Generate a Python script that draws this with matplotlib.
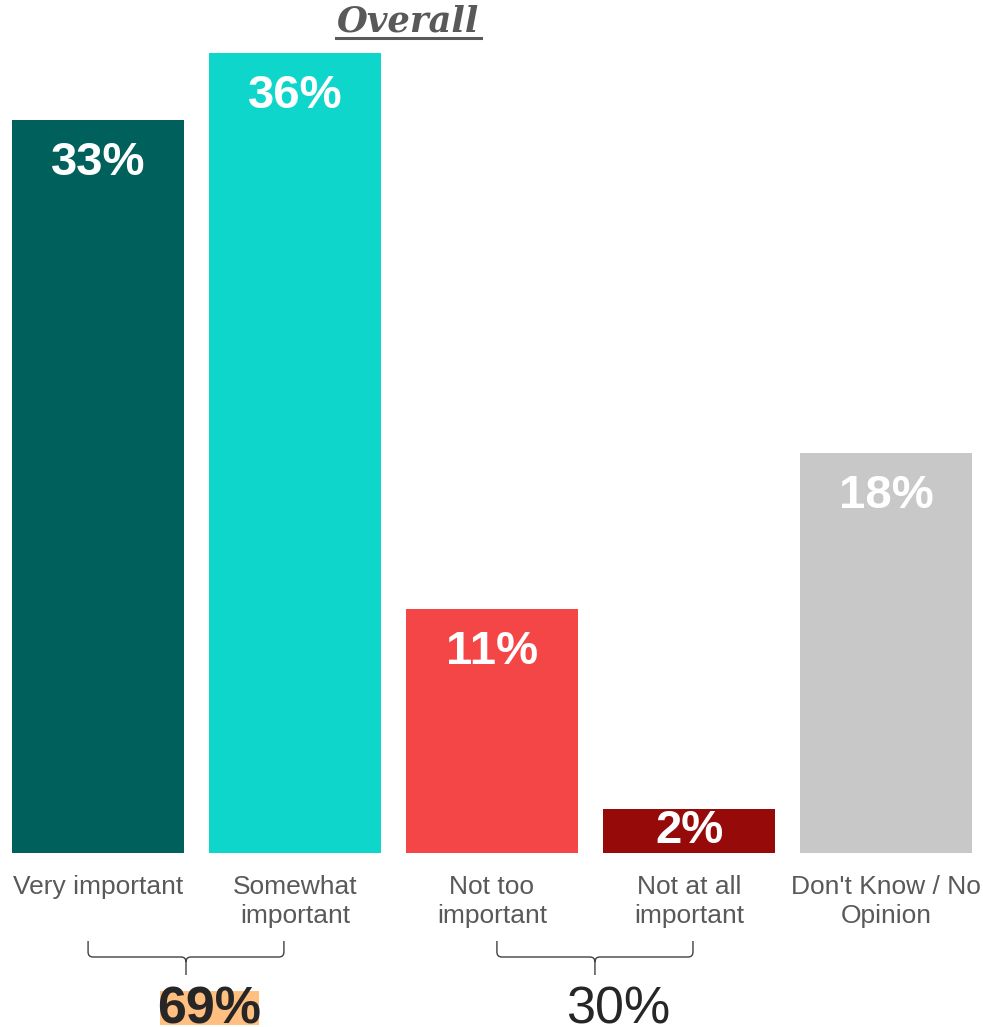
import matplotlib
matplotlib.use("Agg")
import matplotlib.pyplot as plt
from matplotlib.path import Path
from matplotlib.patches import PathPatch, Rectangle
from matplotlib.transforms import IdentityTransform

# Survey results: importance ratings (percent of respondents)
categories = ["Very important", "Somewhat\nimportant", "Not too\nimportant",
              "Not at all\nimportant", "Don't Know / No\nOpinion"]
values = [33, 36, 11, 2, 18]
colors = ["#00605C", "#0ED6CB", "#F44646", "#960A0A", "#C8C8C8"]

# Grouped totals shown under the brackets
group_members = [(0, 1), (2, 3)]
group_totals = ["69%", "30%"]

W, H = 983, 1027
DPI = 100
fig = plt.figure(figsize=(W / DPI, H / DPI), dpi=DPI)
plt.rcParams["font.family"] = ["Liberation Sans", "DejaVu Sans"]

# Axes spans the full width; the baseline sits 853 px from the top
ax = fig.add_axes([0, 1 - 853 / H, 1, 853 / H])
ax.set_xlim(-0.497, 4.492)
ax.set_ylim(0, 38.39)
for s in ax.spines.values():
    s.set_visible(False)
ax.set_yticks([])

x = list(range(len(values)))
ax.bar(x, values, width=0.873, color=colors)

ax.set_xticks(x)
ax.set_xticklabels(categories, fontsize=19, color="#595959", linespacing=1.3)
ax.tick_params(axis="x", length=0, pad=15.5)

# Value labels inside the bars: near the top, or centred for short bars
label_drop = 1.95  # in percentage points
for xi, v in zip(x, values):
    ax.text(xi, max(v - label_drop, v / 2), f"{v}%", ha="center", va="center",
            fontsize=34, fontweight="bold", color="white")


def px(xp, yp):
    """Convert top-left pixel coordinates to display coordinates."""
    return (xp, H - yp)


# Title with underline
fig.text(408 / W, 1 - 22 / H, "Overall", ha="center", va="center",
         fontsize=25.5, fontweight="bold", style="italic",
         family="DejaVu Serif", color="#595959")
fig.add_artist(plt.Line2D([336 / W, 481 / W], [1 - 38 / H, 1 - 38 / H],
                          color="#595959", lw=2.2))

# Curly brackets spanning each pair of bars, with totals underneath
bracket_spans = [(-0.05, 0.944), (2.025, 3.02)]
fig.canvas.draw()
for (x0, x1), label, bold in zip(bracket_spans, group_totals, [True, False]):
    xl = ax.transData.transform((x0, 0))[0]
    xr = ax.transData.transform((x1, 0))[0]
    xm = (xl + xr) / 2
    yt, yh, yb = 941, 957, 975
    r = 5
    verts = [px(xl, yt), px(xl, yh - r), px(xl, yh), px(xl + r, yh),
             px(xm - r, yh), px(xm, yh), px(xm, yh + r), px(xm, yb),
             px(xm, yh + r), px(xm, yh), px(xm + r, yh),
             px(xr - r, yh), px(xr, yh), px(xr, yh - r), px(xr, yt)]
    codes = [Path.MOVETO, Path.LINETO, Path.CURVE3, Path.CURVE3,
             Path.LINETO, Path.CURVE3, Path.CURVE3, Path.LINETO,
             Path.MOVETO, Path.CURVE3, Path.CURVE3,
             Path.LINETO, Path.CURVE3, Path.CURVE3, Path.LINETO]
    fig.add_artist(PathPatch(Path(verts, codes), transform=IdentityTransform(),
                             fill=False, edgecolor="#404040", lw=1.0))

    tx = xm + 23
    t = fig.text(tx / W, 1 - 1023 / H, label, ha="center", va="baseline",
                 fontsize=37.5, fontweight="bold" if bold else "normal",
                 color="#262626")
    if bold:
        fig.add_artist(Rectangle((160 / W, 1 - 1025 / H), 99 / W, 34 / H,
                                 transform=fig.transFigure,
                                 facecolor="#FFBF80", edgecolor="none",
                                 zorder=t.get_zorder() - 1))

fig.savefig("out.png", dpi=DPI)
